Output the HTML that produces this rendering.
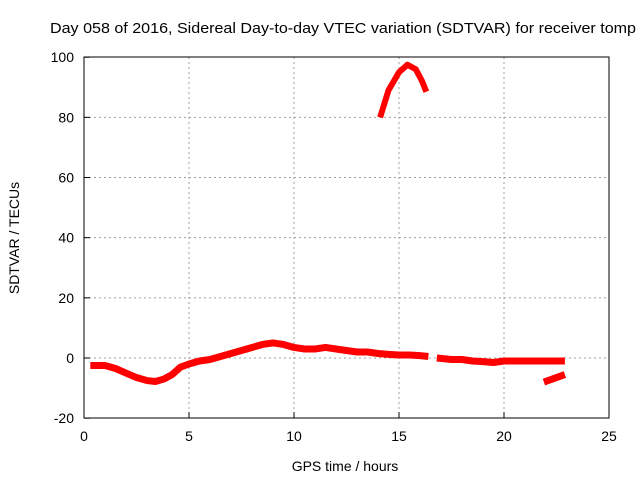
<!DOCTYPE html>
<html><head><meta charset="utf-8"><style>
body{margin:0;background:#fff}
svg{display:block;font-family:"Liberation Sans",sans-serif;font-size:14px}
</style></head><body>
<svg id="c" width="640" height="480">
<text x="50" y="33" fill="#000" textLength="586" lengthAdjust="spacingAndGlyphs" style="font-size:15px">Day 058 of 2016, Sidereal Day-to-day VTEC variation (SDTVAR) for receiver tomp</text>
<text x="345" y="471" text-anchor="middle">GPS time / hours</text>
<text transform="translate(19,238) rotate(-90)" text-anchor="middle">SDTVAR / TECUs</text>
<g id="grid"></g><g id="data"></g>
<rect x="84" y="57" width="525" height="361" fill="none" stroke="#000" stroke-width="1"/>
</svg>
<script>
const xTicks=[0,5,10,15,20,25];
const yTicks=[-20,0,20,40,60,80,100];
const seg1Hours=[0.3,0.6,1.0,1.5,2.0,2.5,3.0,3.4,3.8,4.2,4.6,5.0,5.5,6.0,6.5,7.0,7.5,8.0,8.5,9.0,9.5,10.0,10.5,11.0,11.5,12.0,12.5,13.0,13.5,14.0,14.5,15.0,15.5,16.0,16.4];
const seg1Vals=[-2.5,-2.5,-2.5,-3.5,-5,-6.5,-7.5,-7.8,-7,-5.5,-3,-2,-1,-0.5,0.5,1.5,2.5,3.5,4.5,5,4.5,3.5,3,3,3.5,3,2.5,2,2,1.5,1.2,1,1,0.8,0.5];
const seg2Hours=[16.8,17.5,18.0,18.5,19.0,19.5,20.0,20.5,21.0,21.5,22.0,22.5,22.9];
const seg2Vals=[0,-0.5,-0.5,-1,-1.2,-1.5,-1,-1,-1,-1,-1,-1,-1];
const seg3Hours=[21.9,22.5,22.9];
const seg3Vals=[-8,-6.5,-5.5];
const arcHours=[14.1,14.5,15.0,15.4,15.8,16.1,16.3];
const arcVals=[80,89,95,97.5,96,92,88.5];
const NS="http://www.w3.org/2000/svg";
const X=h=>84+h*21, Y=v=>358-v*3.008;
const g=document.getElementById('grid'), d=document.getElementById('data'), svg=document.getElementById('c');
function mk(t,a,p){const e=document.createElementNS(NS,t);for(const k in a)e.setAttribute(k,a[k]);p.appendChild(e);return e;}
xTicks.forEach(t=>{
 const x=X(t);
 if(t>0&&t<25){const l=mk('line',{x1:x,y1:57,x2:x,y2:418,stroke:'#a0a0a0','stroke-dasharray':'2,3'},g);
 
 }
 const tk=mk('line',{x1:x,y1:418,x2:x,y2:412,stroke:'#000'},g);
 
 
 const tx=mk('text',{x:x,y:441,'text-anchor':'middle'},svg);tx.textContent=t;
 
 
});
yTicks.forEach(t=>{
 const y=Y(t);
 if(t>-20&&t<100){const l=mk('line',{x1:84,y1:y,x2:609,y2:y,stroke:'#a0a0a0','stroke-dasharray':'2,3'},g);
 
 }
 const tk=mk('line',{x1:84,y1:y,x2:90,y2:y,stroke:'#000'},g);
 
 
 const tx=mk('text',{x:74,y:y+5,'text-anchor':'end'},svg);tx.textContent=t;
 
 
});
[[seg1Hours,seg1Vals],[seg2Hours,seg2Vals],[seg3Hours,seg3Vals],[arcHours,arcVals]].forEach((s,i)=>{
 const pts=s[0].map((h,j)=>X(h)+','+Y(s[1][j])).join(' ');
 const p=mk('polyline',{points:pts,fill:'none',stroke:'#ff0000','stroke-width':i==3?6:7,'stroke-linejoin':'round','stroke-linecap':'butt'},d);
 
 
});
</script>
</body></html>
